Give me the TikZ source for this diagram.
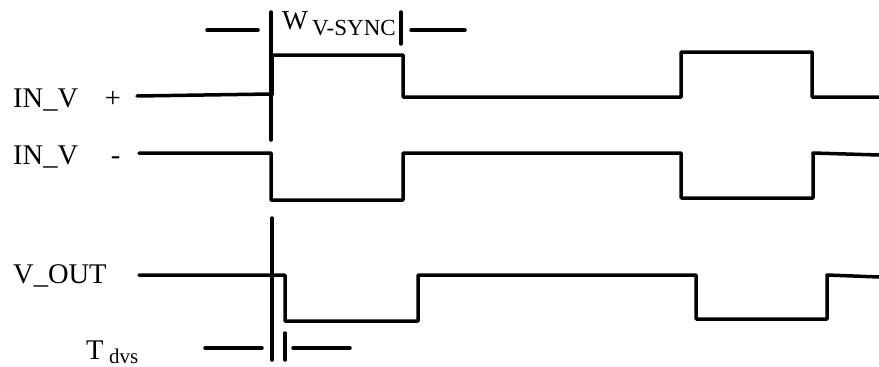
\documentclass[tikz,border=0pt]{standalone}
\usepackage{fontspec}
\setmainfont{Liberation Serif}
\begin{document}
\begin{tikzpicture}[x=1pt,y=-1pt,
  wave/.style={line width=3.5pt, line join=round, line cap=round},
  lbl/.style={font=\fontsize{28.5}{32}\selectfont, inner sep=0pt, anchor=base west},
  sym/.style={font=\fontsize{28.5}{32}\selectfont, inner sep=0pt, anchor=base},
  big/.style={font=\fontsize{27.5}{31}\selectfont, inner sep=0pt, anchor=base west},
  sub/.style={font=\fontsize{23}{27}\selectfont, inner sep=0pt, anchor=base west},
  tsub/.style={font=\fontsize{21}{25}\selectfont, inner sep=0pt, anchor=base west}]
\useasboundingbox (0,0) rectangle (879,367);
% labels
\node[lbl] (inp) at (13,107) {IN\_V};
\node[sym] (plus) at (113,107) {+};
\node[lbl] (inm) at (13,164) {IN\_V};
\node[sym] (minus) at (115.5,164) {-};
\node[lbl] (vout) at (13,283) {V\_OUT};
\node[big] (w) at (282,29) {W};
\node[sub] (wsub) at (312,35) {V-SYNC};
\node[lbl] (t) at (86,359) {T};
\node[tsub] (tsubn) at (109,363) {dvs};
% W marker
\draw[wave] (207,30) -- (258,30);
\draw[wave] (411,30) -- (465,30);
\draw[wave] (271,12) -- (271,140);
\draw[wave] (401,12) -- (401,44);
% IN_V +
\draw[wave] (137,96) -- (271,94) (272,95) -- (272,55) -- (403,55) -- (403,97) -- (681,97) -- (681,52) -- (812,52) -- (812,97) -- (879,97);
% IN_V -
\draw[wave] (139,153) -- (271,153) -- (271,200) -- (403,200) -- (403,153) -- (681,153) -- (681,198) -- (813,198) -- (813,153) -- (879,155);
% V_OUT
\draw[wave] (139,275) -- (285,275) -- (285,321) -- (418,321) -- (418,275) -- (696,275) -- (696,319) -- (827,319) -- (827,275) -- (879,277);
% T_dvs marker
\draw[wave] (272,218) -- (272,360);
\draw[wave] (285,333) -- (285,360);
\draw[wave] (205,348) -- (262,348);
\draw[wave] (293,348) -- (350,348);
\end{tikzpicture}
\end{document}
